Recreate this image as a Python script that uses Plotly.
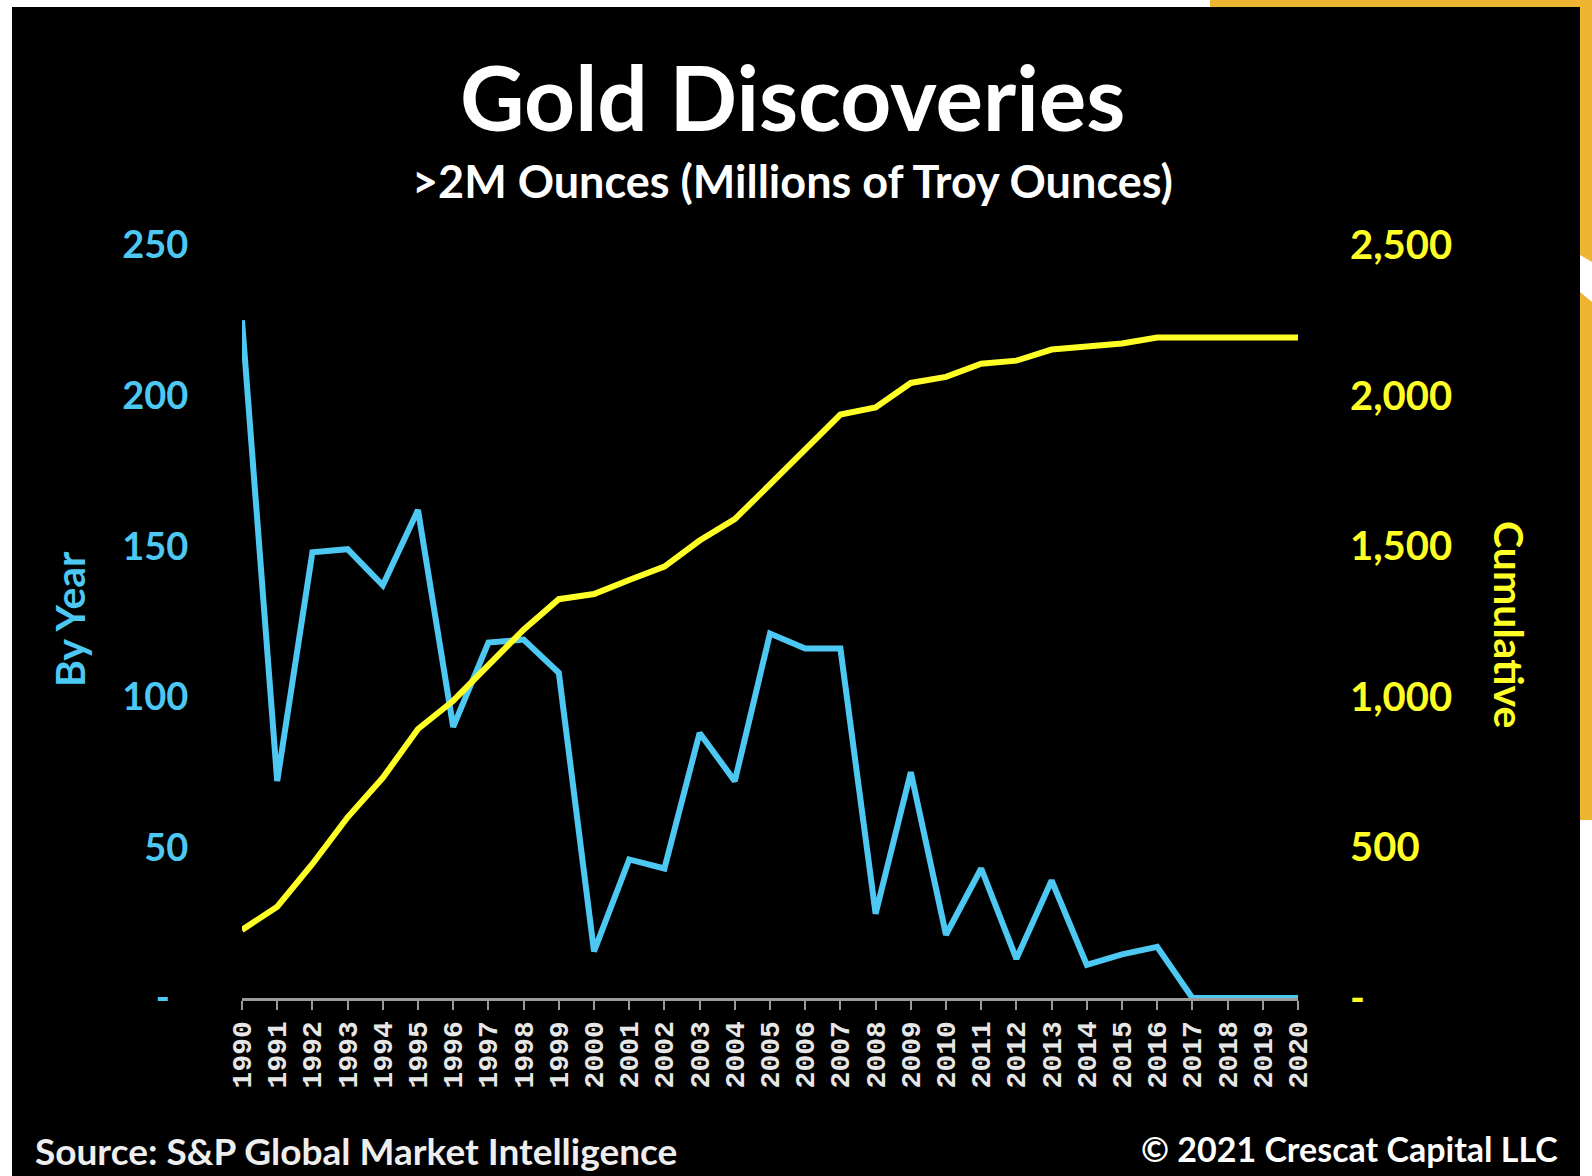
import plotly.graph_objects as go

years = list(range(1990, 2021))
year_labels = [str(y) for y in years]

by_year = [225, 72, 148, 149, 137, 162, 90, 118, 119, 108, 15.5, 46, 43, 88, 72,
           121, 116, 116, 28, 75, 21, 43, 13, 39, 11, 14.5, 17, 0, 0, 0, 0]

cumulative = [226, 303, 445, 600, 731, 893, 987, 1102, 1223, 1324, 1341, 1388, 1432,
              1519, 1590, 1705, 1819, 1937, 1961, 2042, 2062, 2106, 2116, 2153, 2163,
              2173, 2193, 2193, 2193, 2193, 2193]

left_ticks = [0, 50, 100, 150, 200, 250]
left_ticktext = ["-\u00a0\u00a0", "50", "100", "150", "200", "250"]
right_ticks = [0, 500, 1000, 1500, 2000, 2500]
right_ticktext = ["-", "500", "1,000", "1,500", "2,000", "2,500"]

W, H = 1592, 1176
ML, MR, MT, MB = 242, 294, 245, 178
PW, PH = W - ML - MR, H - MT - MB

def px(x):
    return (x - ML) / PW

def py(y):
    return (H - MB - y) / PH

BLUE = "#4DC8F2"
YELLOW = "#FFFF26"
GOLD = "#EDB531"

fig = go.Figure()
fig.add_trace(go.Scatter(x=years, y=by_year, mode="lines", name="By Year",
                         line=dict(color=BLUE, width=6), yaxis="y"))
fig.add_trace(go.Scatter(x=years, y=cumulative, mode="lines", name="Cumulative",
                         line=dict(color=YELLOW, width=6), yaxis="y2"))

shapes = [
    dict(type="rect", xref="paper", yref="paper", x0=px(12), x1=px(1580), y0=py(7), y1=py(1176),
         fillcolor="black", line=dict(width=0), layer="below"),
    dict(type="rect", xref="paper", yref="paper", x0=px(1210), x1=px(1592), y0=py(0), y1=py(7),
         fillcolor=GOLD, line=dict(width=0), layer="below"),
    dict(type="rect", xref="paper", yref="paper", x0=px(1580), x1=px(1592), y0=py(0), y1=py(820),
         fillcolor=GOLD, line=dict(width=0), layer="below"),
    dict(type="path", xref="paper", yref="paper",
         path=f"M {px(1580)} {py(255)} L {px(1592)} {py(262)} L {px(1592)} {py(302)} L {px(1580)} {py(292)} Z",
         fillcolor="white", line=dict(width=0), layer="below"),
]

FONT = "Lato"
annotations = [
    dict(text="Gold Discoveries", x=px(792), y=py(97), xref="paper", yref="paper",
         showarrow=False, xanchor="center", yanchor="middle",
         font=dict(family=FONT, size=89, color="white", weight="bold")),
    dict(text=">2M Ounces (Millions of Troy Ounces)", x=px(792), y=py(181), xref="paper", yref="paper",
         showarrow=False, xanchor="center", yanchor="middle",
         font=dict(family=FONT, size=45, color="white", weight="bold")),
    dict(text="By Year", x=px(69), y=py(619), xref="paper", yref="paper", textangle=-90,
         showarrow=False, xanchor="center", yanchor="middle",
         font=dict(family=FONT, size=41, color=BLUE, weight="bold")),
    dict(text="Cumulative", x=px(1510), y=py(624), xref="paper", yref="paper", textangle=90,
         showarrow=False, xanchor="center", yanchor="middle",
         font=dict(family=FONT, size=41, color=YELLOW, weight="bold")),
    dict(text="Source: S&P Global Market Intelligence", x=px(33), y=py(1150), xref="paper", yref="paper",
         showarrow=False, xanchor="left", yanchor="middle",
         font=dict(family=FONT, size=37, color="#EEEEEE", weight="bold")),
    dict(text="© 2021 Crescat Capital LLC", x=px(1560), y=py(1148), xref="paper", yref="paper",
         showarrow=False, xanchor="right", yanchor="middle",
         font=dict(family=FONT, size=34, color="white", weight="bold")),
]

fig.update_layout(
    width=W, height=H,
    margin=dict(l=ML, r=MR, t=MT, b=MB, pad=0),
    paper_bgcolor="white",
    plot_bgcolor="rgba(0,0,0,0)",
    showlegend=False,
    shapes=shapes,
    annotations=annotations,
    xaxis=dict(range=[1990, 2020], tickmode="array", tickvals=years, ticktext=year_labels,
               tickangle=-90, tickfont=dict(family="Liberation Mono", size=28, color="#E6E6E6", weight="bold"),
               showline=True, linecolor="#9A9A9A", linewidth=3,
               ticks="outside", ticklen=9, tickwidth=2, tickcolor="#9A9A9A",
               showgrid=False, zeroline=False),
    yaxis=dict(range=[0, 250], tickmode="array", tickvals=left_ticks, ticktext=left_ticktext,
               tickfont=dict(family=FONT, size=38, color=BLUE, weight="bold"),
               ticks="outside", ticklen=45, tickcolor="rgba(0,0,0,0)",
               showline=False, showgrid=False, zeroline=False),
    yaxis2=dict(range=[0, 2500], overlaying="y", side="right", tickmode="array",
                tickvals=right_ticks, ticktext=right_ticktext,
                tickfont=dict(family=FONT, size=40, color=YELLOW, weight="bold"),
                ticks="outside", ticklen=43, tickcolor="rgba(0,0,0,0)",
                showline=False, showgrid=False, zeroline=False),
)

fig.write_html(
    "out.html",
    config={"displayModeBar": False},
    post_script="document.body.style.margin='0';document.body.style.overflow='hidden';",
)
